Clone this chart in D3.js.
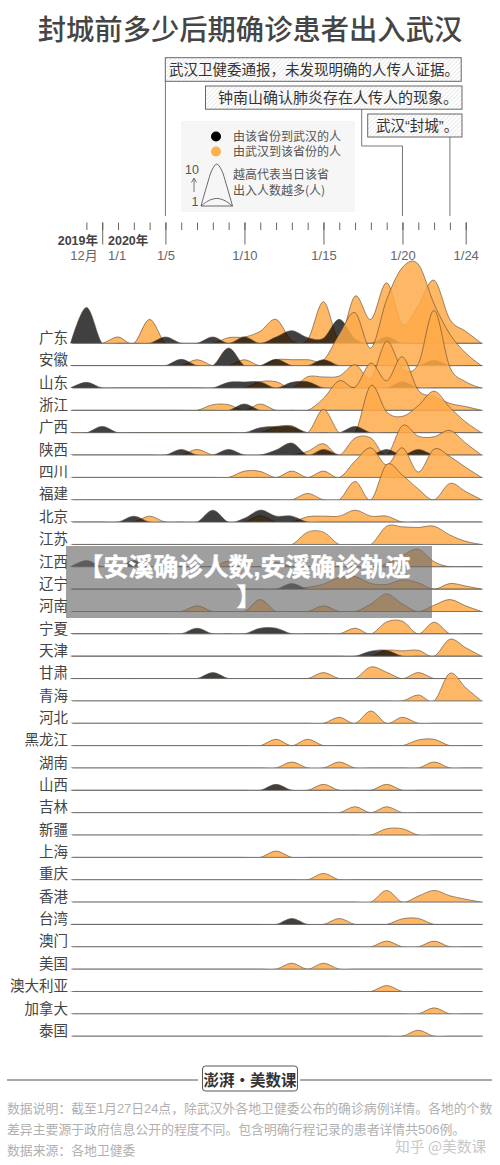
<!DOCTYPE html>
<html><head><meta charset="utf-8">
<script src="https://cdn.jsdelivr.net/npm/d3@7/dist/d3.min.js"></script>
<style>html,body{margin:0;padding:0;background:#fff}svg{display:block}
text{font-family:"Liberation Sans","Noto Sans CJK SC",sans-serif}</style>
</head><body><svg id="c" width="500" height="1165"></svg>
<script>
const provinces=["广东","安徽","山东","浙江","广西","陕西","四川","福建","北京","江苏","江西","辽宁","河南","宁夏","天津","甘肃","青海","河北","黑龙江","湖南","山西","吉林","新疆","上海","重庆","香港","台湾","澳门","美国","澳大利亚","加拿大","泰国"];
// [day position, people] pairs; absent days are zero
const toWuhan=[
[[0,5.7],[5,1],[8,1],[10,1],[12,1],[13,2],[14,.9],[15,.8],[16,3.8],[17,.7],[19,1]],
[[6,1],[9,2.8],[12,1],[15,.95],[22,.85]],
[[0,.9],[9,.9],[10,.95],[11,.95],[13,.9],[14,1],[20,1]],
[[10,1]],
[[1,1],[11,.8],[12,1],[13,1],[17,1]],
[[6,.9],[9,.9],[12,.8],[13,1.9],[15,.9],[19,.9],[21,.9]],
[],[],
[[3,.95],[8,1.9],[10,.6],[11,1.9],[12,.95],[13,.95]],
[],
[[0,1],[3,1]],
[[13,.9]],
[],
[[7,.9],[11,.9],[12,.9]],
[[18,.8],[19,.95]],
[[8,.95]],
[],[],[],[],
[[12,.95]],
[],[],[],[],[],
[[13,.95]],
[],[],[],[],[]];
const fromWuhan=[
[[2,1],[4,3.8],[9,.9],[10,1],[11,1.9],[12,3.8],[13,.4],[14,.6],[15,6.6],[16,.7],[17,7.5],[18,3.8],[19,9.6],[20,3],[21,6],[22,10],[23,3.8],[24,1.9]],
[[7,.95],[10,.95],[12,.95],[13,.95],[14,.95],[15,.9],[16,5],[17,8.4],[18,2.8],[19,10.5],[20,15.6],[21,16.1],[22,9.8],[23,5],[24,2]],
[[11,1],[12,1],[14,1.8],[15,1.75],[16,1.9],[17,3.7],[18,1.6],[19,7.4],[20,3],[21,3.8],[22,12.3],[23,3.3],[24,1]],
[[8,.9],[9,.9],[11,1],[15,1.9],[16,4.7],[17,3.7],[18,7.5],[19,4.7],[20,8.5],[21,3.2],[22,2.2],[23,1.1],[24,.6]],
[[12,.9],[13,1.1],[15,3.7],[18,7.5],[19,3.3],[20,2.6],[21,4.3],[22,6.6],[23,4],[24,1.7]],
[[7,.9],[14,.6],[15,1.8],[17,2.7],[18,2.7],[20,4.7],[21,3],[22,2.9],[23,3.9],[24,1.9]],
[[10,1],[11,.95],[13,1],[15,1],[17,2.6],[18,4.7],[19,2],[20,4.7],[21,.85],[22,4.5],[23,3.3],[24,1.6]],
[[14,1],[17,2.9],[19,5.6],[20,3.9],[21,1.7],[23,2.6],[24,1.3]],
[[4,.95],[11,1],[14,.85],[15,.95],[16,.95],[17,1.9],[18,.95],[19,.95]],
[[14,1.95],[15,1.95],[19,2.9],[20,2.8],[21,2.7],[22,2.9],[23,1.5],[24,.5]],
[[9,.9],[12,.7],[19,.5],[20,1.8],[21,2.8],[22,.8]],
[[14,.3],[15,.8],[16,1.85],[17,2],[18,.9],[19,.75],[20,1.5],[21,1],[23,.9],[24,.5]],
[[7,.9],[11,1.9],[15,.9],[18,1.2],[19,2.8],[20,1.2],[22,1],[23,1.9],[24,.9]],
[[17,.9],[19,1.9],[20,2],[22,1.85]],
[[19,.95],[20,.85],[21,.95],[23,2.7],[24,1.35]],
[[15,.95],[18,1.85],[19,1],[21,.95]],
[[21,.95],[23,4.4],[24,2.1]],
[[16,.95],[18,1.95],[20,.95]],
[[12,1],[14,1],[21,.9],[22,1]],
[[13,.95],[16,.95],[22,.95]],
[[15,.95],[19,.95]],
[[17,.95],[19,.95]],
[[19,1],[20,1]],
[[12,1]],
[[15,1]],
[[19,1.85],[21,.95],[22,1.85],[23,1],[24,.45]],
[[16,.95],[20,.9],[21,.95]],
[[19,.9],[22,.9]],
[[13,.95],[15,.95]],
[[19,.95]],
[[22,.95]],
[[21,.95]]];
const dayPositions=d3.range(-1,26);
const tickPositions=d3.range(0,25);
const majorPositions=[1,5,10,15,20,24];
const labelPositions=[0,2,5,10,15,20,24];
const tickLabels=["12月","1/1","1/5","1/10","1/15","1/20","1/24"];
const yearLabels=["2019年","2020年"];
const legendKeys=["由该省份到武汉的人","由武汉到该省份的人"];
const legendNote=["越高代表当日该省","出入人数越多(人)"];
const legendShapeX=[-1,-.6,-.3,0,.3,.6,1];
const legendShapeTall=[0,5.2,8.6,10,8.6,5.2,0];
const legendShapeLow=[0,1.1,1.6,1.8,1.6,1.1,0];
const notes=["武汉卫健委通报，未发现明确的人传人证据。","钟南山确认肺炎存在人传人的现象。","武汉“封城”。"];
const footerLines=["数据说明：截至1月27日24点，除武汉外各地卫健委公布的确诊病例详情。各地的个数","差异主要源于政府信息公开的程度不同。包含明确行程记录的患者详情共506例。","数据来源：各地卫健委"];

const CJK='"Noto Sans CJK SC",sans-serif';
const svg=d3.select("#c");
const x=d3.scaleLinear().domain([0,24]).range([86.4,465.7]);
const rowY=d3.scalePoint().domain(provinces).range([343.3,1036.2]);
const h=d3.scaleLinear().domain([0,1]).range([0,6.3]);
const defs=svg.append("defs");
const pat=defs.append("pattern").attr("id","hatch").attr("width",3).attr("height",3)
  .attr("patternUnits","userSpaceOnUse").attr("patternTransform","rotate(45)");
pat.append("rect").attr("width",3).attr("height",3).attr("fill","#fff");
pat.append("line").attr("x1",0).attr("x2",0).attr("y1",0).attr("y2",3).attr("stroke","#d4d4d4").attr("stroke-width",1);

// title
svg.append("text").attr("x",250).attr("y",40).attr("text-anchor","middle")
 .style("font-family",CJK).style("font-size","28.3px").style("font-weight",500).attr("fill","#454545")
 .text("封城前多少后期确诊患者出入武汉");

// legend
svg.append("rect").attr("x",181).attr("y",121).attr("width",174).attr("height",91).attr("fill","#f6f6f6");
["#000","#fdb04e"].forEach((c,i)=>svg.append("circle").attr("cx",216).attr("cy",136.5+i*15).attr("r",5).attr("fill",c));
legendKeys.forEach((t,i)=>svg.append("text").attr("x",233).attr("y",140.9+i*15).style("font-family",CJK).style("font-size","12px").attr("fill","#555").text(t));
legendNote.forEach((t,i)=>svg.append("text").attr("x",233).attr("y",178.6+i*16.2).style("font-family",CJK).style("font-size","12px").attr("fill","#555").text(t));
const lx=d3.scaleLinear().domain([-1,1]).range([201,232.5]);
const ly=d3.scaleLinear().domain([0,10]).range([206,164]);
[legendShapeTall,legendShapeLow].forEach(v=>svg.append("path")
 .attr("d",d3.line().x((d,i)=>lx(legendShapeX[i])).y(d=>ly(d)).curve(d3.curveCatmullRom.alpha(.5))(v))
 .attr("fill","none").attr("stroke","#444").attr("stroke-width",.8));
svg.append("line").attr("x1",201).attr("x2",232.5).attr("y1",206).attr("y2",206).attr("stroke","#444").attr("stroke-width",.8);
svg.append("text").attr("x",192).attr("y",173.5).attr("text-anchor","middle").style("font-size","12.5px").attr("fill","#555").text("10");
svg.append("text").attr("x",195).attr("y",206).attr("text-anchor","middle").style("font-size","12.5px").attr("fill","#555").text("1");
svg.append("line").attr("x1",194).attr("x2",194).attr("y1",179).attr("y2",192).attr("stroke","#555").attr("stroke-width",.8);
svg.append("path").attr("d","M191.5,182.5L194,178L196.5,182.5").attr("fill","none").attr("stroke","#555").attr("stroke-width",.8);

// annotations
const conn="#777";
svg.append("path").attr("d",`M${x(5)},81V216`).attr("fill","none").attr("stroke",conn);
svg.append("path").attr("d",`M361.7,109V146H${x(20)}V216`).attr("fill","none").attr("stroke",conn);
svg.append("path").attr("d",`M${x(23)},137V216`).attr("fill","none").attr("stroke",conn);
[[165.3,57.7,295.9,23.6,169,14.5],[205.5,86,256.5,23.2,218,15],[367.7,114,94.3,23,376,14.5]].forEach((b,i)=>{
 svg.append("rect").attr("x",b[0]).attr("y",b[1]).attr("width",b[2]).attr("height",b[3]).attr("fill","url(#hatch)").attr("stroke","#666").attr("stroke-width",1);
 svg.append("text").attr("x",b[4]).attr("y",b[1]+17).style("font-size",b[5]+"px").attr("fill","#333").text(notes[i]);
});

// axes
const axisTop=222.5;
const g1=svg.append("g").attr("transform",`translate(0,${axisTop})`).call(d3.axisBottom(x).tickValues(tickPositions).tickSize(7.5).tickFormat(""));
const g2=svg.append("g").attr("transform",`translate(0,${axisTop})`).call(d3.axisBottom(x).tickValues(majorPositions).tickSize(22).tickFormat(""));
[g1,g2].forEach(g=>{g.select(".domain").remove();g.selectAll("line").attr("stroke","#555").attr("stroke-width",.9);});
const g3=svg.append("g").attr("transform",`translate(0,${axisTop})`).call(d3.axisBottom(x).tickValues(labelPositions).tickSize(0).tickPadding(28.5).tickFormat((d,i)=>tickLabels[i]));
g3.select(".domain").remove();
g3.selectAll("text").attr("fill","#666").style("font-size","13px").style("font-family",'"Liberation Sans","Noto Sans CJK SC"')
  .attr("dx",(d,i)=>i==0?-3:(i==1?-1.4:0));
yearLabels.forEach((t,i)=>svg.append("text").attr("x",i?108:98).attr("y",244.5).attr("text-anchor",i?"start":"end")
  .style("font-size","12.5px").style("font-weight",700).attr("fill","#444").text(t));

// ridges
const expand=pairs=>{const m=new Map(pairs);return dayPositions.map(d=>m.get(d)||0);};
const curve=d3.curveCatmullRom.alpha(0);
const rows=svg.append("g");
provinces.forEach((name,i)=>{
 const b=rowY(name);
 defs.append("clipPath").attr("id","r"+i).append("rect").attr("x",0).attr("y",0).attr("width",500).attr("height",b);
 const g=rows.append("g");
 const gc=g.append("g").attr("clip-path",`url(#r${i})`);
 [[fromWuhan[i],"#feaa4a",.85],[toWuhan[i],"#000",.75]].forEach(([pairs,col,op])=>{
  if(!pairs.length)return;
  const vals=expand(pairs);
  const area=d3.area().x((d,k)=>x(dayPositions[k])).y0(b+4).y1(d=>b-h(d)).curve(curve);
  const line=d3.line().x((d,k)=>x(dayPositions[k])).y(d=>b-h(d)).curve(curve);
  gc.append("path").attr("d",area(vals)).attr("fill",col).attr("fill-opacity",op);
  gc.append("path").attr("d",line(vals)).attr("fill","none").attr("stroke","#5a4630").attr("stroke-width",.6);
 });
 g.append("line").attr("x1",72.3).attr("x2",482.7).attr("y1",b).attr("y2",b).attr("stroke","#666").attr("stroke-width",.9);
 g.append("text").attr("x",68).attr("y",b-.3).attr("text-anchor","end").style("font-family",CJK).style("font-size","14.5px").attr("fill","#444").text(name);
});

// footer
[[7,198],[300,492]].forEach(s=>svg.append("line").attr("x1",s[0]).attr("x2",s[1]).attr("y1",1080).attr("y2",1080).attr("stroke","#555").attr("stroke-width",1));
svg.append("rect").attr("x",202.5).attr("y",1066).attr("width",95).attr("height",25).attr("rx",3).attr("fill","#fff").attr("stroke","#555").attr("stroke-width",1);
svg.append("text").attr("x",250).attr("y",1085.5).attr("text-anchor","middle").style("font-family",CJK).style("font-size","15.5px").style("font-weight",700).attr("fill","#333").text("澎湃·美数课");
footerLines.forEach((t,i)=>svg.append("text").attr("x",7).attr("y",1112.5+i*21).style("font-size","12.85px").attr("fill","#b0b0b0").text(t));
svg.append("text").attr("x",395).attr("y",1152).style("font-family",CJK).style("font-size","14.8px").attr("fill","#c8c8c8").text("知乎 @美数课");

// banner
svg.append("rect").attr("x",66).attr("y",546).attr("width",366).attr("height",72).attr("fill","#6c6c6c").attr("fill-opacity",.65);
[["【安溪确诊人数,安溪确诊轨迹",244.5],["】",249]].forEach((t,i)=>svg.append("text").attr("x",t[1]).attr("y",575.5+i*30).attr("text-anchor","middle")
 .style("font-size","25px").style("font-weight",700).attr("fill","#fff").attr("stroke","#fff").attr("stroke-width",.4).text(t[0]));
</script></body></html>
